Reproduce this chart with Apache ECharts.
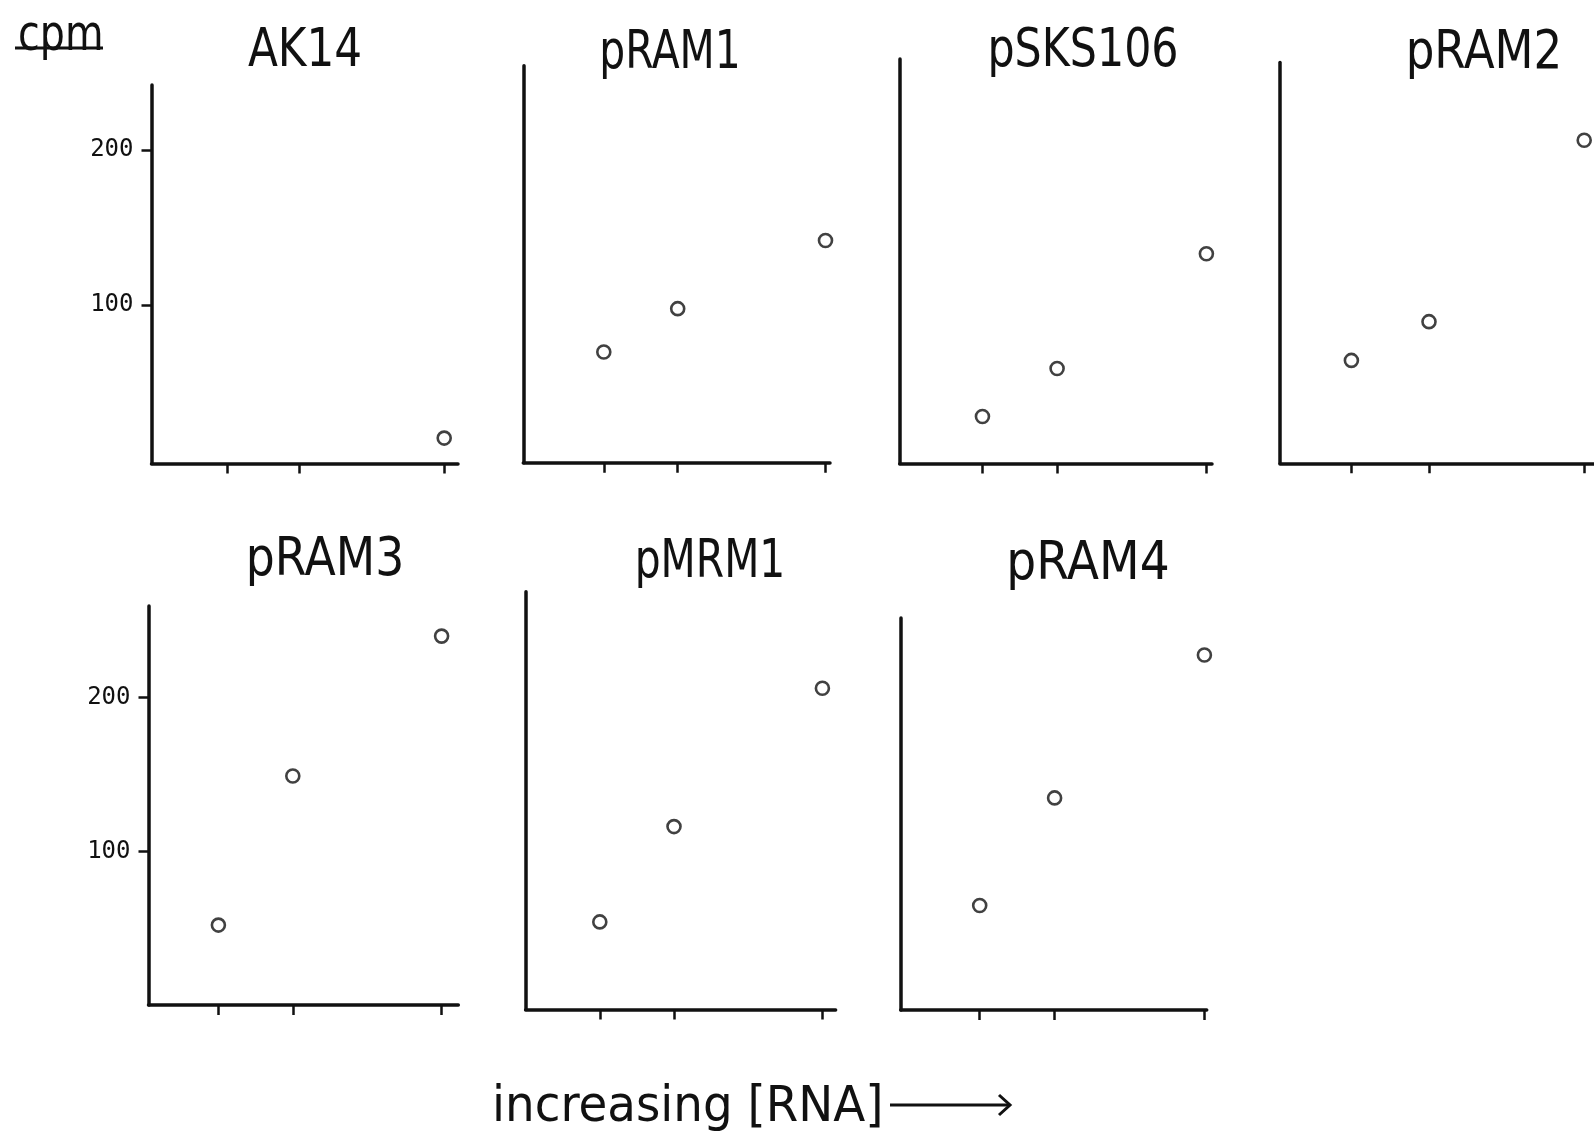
<!DOCTYPE html>
<html>
<head>
<meta charset="utf-8">
<title>cpm vs increasing [RNA]</title>
<script src="https://cdn.jsdelivr.net/npm/echarts@6/dist/echarts.min.js"></script>
<style>
  html, body { margin: 0; padding: 0; background: #fff; }
  #chart { width: 1594px; height: 1136px; }
</style>
</head>
<body>
<div id="chart"></div>
<script>
// ---- data ----------------------------------------------------------------
const panelNames = ['AK14', 'pRAM1', 'pSKS106', 'pRAM2', 'pRAM3', 'pMRM1', 'pRAM4'];
// relative RNA amounts at the three x ticks
const rnaLevels = [1, 2, 4];
// cpm at each RNA level (null = no point plotted)
const cpmAK14 = [null, null, 14];
const cpmPRAM1 = [69, 97, 141];
const cpmPSKS106 = [28, 59, 133];
const cpmPRAM2 = [64, 89, 206];
const cpmPRAM3 = [52, 149, 240];
const cpmPMRM1 = [57, 119, 209];
const cpmPRAM4 = [68, 138, 231];
const cpmTicks = [100, 200];
const xAxisLabel = 'increasing [RNA]';
const yAxisLabel = 'cpm';

const panelValues = [cpmAK14, cpmPRAM1, cpmPSKS106, cpmPRAM2, cpmPRAM3, cpmPMRM1, cpmPRAM4];

// ---- layout (pixels) -----------------------------------------------------
// left: y-axis x, right: end of x-axis, x0: px of RNA 0, unit: px per RNA unit,
// top: top of y-axis, axisY: x-axis y, ppu: px per cpm, off: px between x-axis and cpm 0,
// tx/ty: title centre, tsx: horizontal squeeze of the title lettering
const layout = [
  { left: 151.5, right: 458,    x0: 155.0,  unit: 72.3,  top: 85,    axisY: 463.5,  ppu: 1.55,  off: 3.7, ticks: true,  tx: 305,  ty: 52, tsx: 0.90 },
  { left: 523.3, right: 830,    x0: 529.9,  unit: 73.9,  top: 65.7,  axisY: 462.7,  ppu: 1.55,  off: 3.7, ticks: false, tx: 670,  ty: 54, tsx: 0.84 },
  { left: 899.7, right: 1212,   x0: 907.8,  unit: 74.65, top: 59,    axisY: 463.6,  ppu: 1.55,  off: 3.7, ticks: false, tx: 1083, ty: 52, tsx: 0.88 },
  { left: 1280,  right: 1594,   x0: 1273.8, unit: 77.6,  top: 62.5,  axisY: 463.3,  ppu: 1.55,  off: 3.7, ticks: false, tx: 1484, ty: 54, tsx: 0.93 },
  { left: 148.5, right: 458.3,  x0: 144.0,  unit: 74.4,  top: 606,   axisY: 1005,   ppu: 1.537, off: 0,   ticks: true,  tx: 325,  ty: 561, tsx: 0.94 },
  { left: 525.6, right: 835.6,  x0: 525.6,  unit: 74.2,  top: 591.7, axisY: 1009.5, ppu: 1.537, off: 0,   ticks: false, tx: 710,  ty: 563, tsx: 0.84 },
  { left: 900.7, right: 1206.7, x0: 904.8,  unit: 74.9,  top: 618,   axisY: 1010,   ppu: 1.537, off: 0,   ticks: false, tx: 1088, ty: 565, tsx: 0.97 }
];

const INK = '#111';
const FONT = '"DejaVu Sans Condensed", "DejaVu Sans", sans-serif';

const grids = [], xAxes = [], yAxes = [], series = [], graphics = [];

layout.forEach((p, i) => {
  const h = p.axisY - p.top;
  grids.push({ left: p.left, top: p.top, width: p.right - p.left, height: h, containLabel: false });

  xAxes.push({
    type: 'value', gridIndex: i,
    min: (p.left - p.x0) / p.unit, max: (p.right - p.x0) / p.unit,
    axisLine: { show: true, onZero: false, lineStyle: { color: INK, width: 3.5 } },
    axisTick: { show: true, customValues: rnaLevels, length: 10, inside: false, lineStyle: { color: INK, width: 2.5 } },
    axisLabel: { show: false },
    splitLine: { show: false }
  });

  yAxes.push({
    type: 'value', gridIndex: i,
    min: -p.off / p.ppu, max: (h - p.off) / p.ppu,
    axisLine: { show: true, onZero: false, lineStyle: { color: INK, width: 3.5 } },
    axisTick: { show: p.ticks, customValues: cpmTicks, length: 10, lineStyle: { color: INK, width: 2.5 } },
    axisLabel: {
      show: p.ticks, customValues: cpmTicks, margin: 18,
      fontFamily: '"DejaVu Sans Mono", monospace', fontSize: 24, color: INK
    },
    splitLine: { show: false }
  });

  series.push({
    type: 'scatter', name: panelNames[i], xAxisIndex: i, yAxisIndex: i,
    symbol: 'circle', symbolSize: 13,
    itemStyle: { color: '#fff', borderColor: INK, borderWidth: 2.6 },
    emphasis: { disabled: true },
    clip: false,
    data: rnaLevels.map((x, j) => [x, panelValues[i][j]]).filter(d => d[1] !== null)
  });

  graphics.push({
    type: 'text', x: p.tx, y: p.ty, scaleX: p.tsx, silent: true,
    style: { text: panelNames[i], font: '54px ' + FONT, fill: INK, textAlign: 'center', textVerticalAlign: 'middle' }
  });
});

// y-axis unit, underlined
graphics.push({
  type: 'text', x: 18, y: 37, scaleX: 0.88, silent: true,
  style: { text: yAxisLabel, font: '50px ' + FONT, fill: INK, textAlign: 'left', textVerticalAlign: 'middle' }
});
graphics.push({
  type: 'line', silent: true,
  shape: { x1: 15, y1: 48, x2: 103, y2: 48 },
  style: { stroke: INK, lineWidth: 3 }
});

// x-axis caption with arrow
graphics.push({
  type: 'text', x: 492, y: 1108, scaleX: 1.04, silent: true,
  style: { text: xAxisLabel, font: '50px ' + FONT, fill: INK, textAlign: 'left', textVerticalAlign: 'middle' }
});
graphics.push({
  type: 'line', silent: true,
  shape: { x1: 890, y1: 1105, x2: 1008, y2: 1105 },
  style: { stroke: INK, lineWidth: 3 }
});
graphics.push({
  type: 'polyline', silent: true,
  shape: { points: [[999, 1095], [1010, 1105], [999, 1115]] },
  style: { stroke: INK, lineWidth: 3, fill: null }
});

const chart = echarts.init(document.getElementById('chart'), null, { renderer: 'canvas' });
chart.setOption({
  backgroundColor: '#fff',
  animation: false,
  grid: grids,
  xAxis: xAxes,
  yAxis: yAxes,
  series: series,
  graphic: graphics
});
</script>
</body>
</html>
